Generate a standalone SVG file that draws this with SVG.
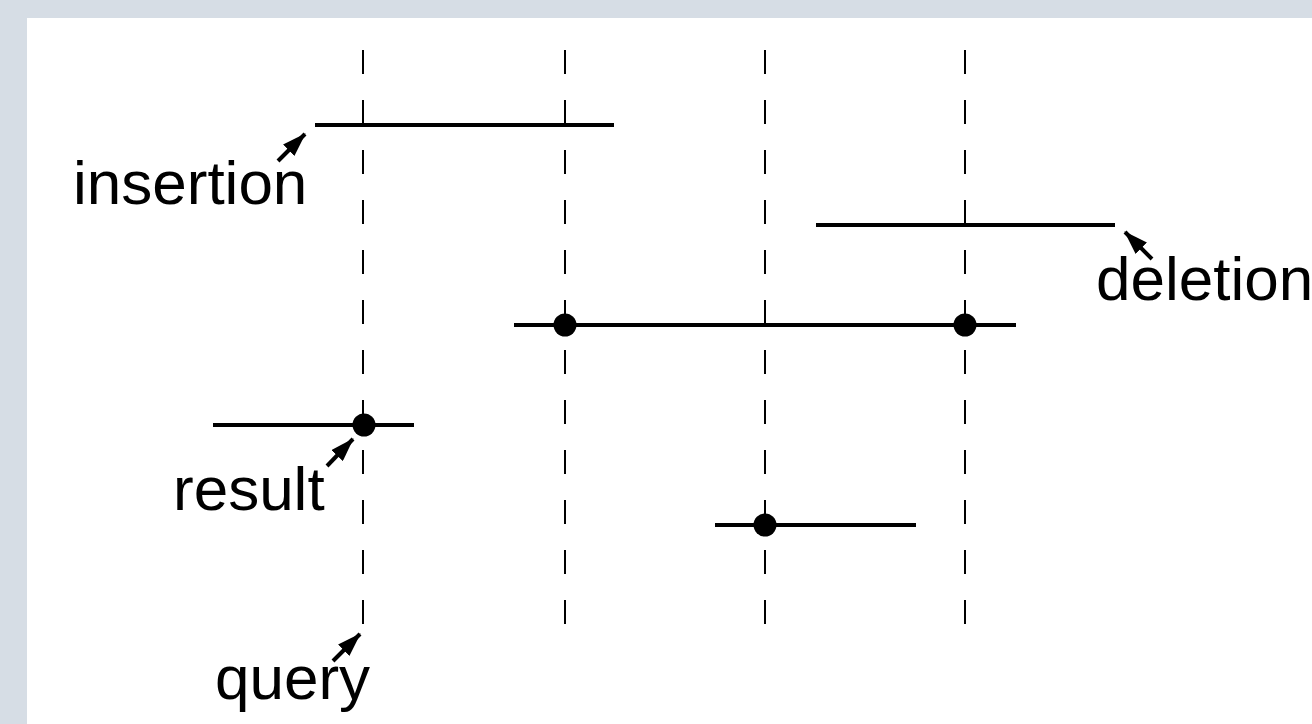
<svg xmlns="http://www.w3.org/2000/svg" width="1312" height="724" viewBox="0 0 1312 724">
<defs>
<marker id="ah" viewBox="0 0 24 16" refX="23" refY="8" markerWidth="24" markerHeight="16" markerUnits="userSpaceOnUse" orient="auto">
<path d="M0,0 L24,8 L0,16 z" fill="#000"/>
</marker>
</defs>
<style>
.grid{stroke:#000;stroke-width:2;stroke-dasharray:24 26;fill:none}
.seg{stroke:#000;stroke-width:4;fill:none}
.dot{fill:#000}
.arr{stroke:#000;stroke-width:4;fill:none}
.lbl{font-family:"Liberation Sans",Arial,sans-serif;font-size:62px;fill:#000}
</style>
<rect width="1312" height="724" fill="#d6dde5"/>
<rect x="27" y="18" width="1285" height="706" fill="#fff"/>
<g id="gridlines">
<line class="grid" x1="363" y1="50" x2="363" y2="626"/>
<line class="grid" x1="565" y1="50" x2="565" y2="626"/>
<line class="grid" x1="765" y1="50" x2="765" y2="626"/>
<line class="grid" x1="965" y1="50" x2="965" y2="626"/>
</g>
<g id="insertion"><line class="seg" x1="315" y1="125" x2="614" y2="125"/></g>
<g id="deletion"><line class="seg" x1="816" y1="225" x2="1115" y2="225"/></g>
<g id="interval1"><line class="seg" x1="514" y1="325" x2="1016" y2="325"/><circle class="dot" cx="565" cy="325" r="11.5"/><circle class="dot" cx="965" cy="325" r="11.5"/></g>
<g id="result"><line class="seg" x1="213" y1="425" x2="414" y2="425"/><circle class="dot" cx="364" cy="425" r="11.5"/></g>
<g id="interval2"><line class="seg" x1="715" y1="525" x2="916" y2="525"/><circle class="dot" cx="765" cy="525" r="11.5"/></g>
<g id="connectors">
<line class="arr" x1="278" y1="161" x2="305" y2="134" marker-end="url(#ah)"/>
<line class="arr" x1="1152" y1="259" x2="1125" y2="232" marker-end="url(#ah)"/>
<line class="arr" x1="327" y1="466" x2="353" y2="439" marker-end="url(#ah)"/>
<line class="arr" x1="333" y1="661" x2="360" y2="634" marker-end="url(#ah)"/>
</g>
<g id="labels">
<text class="lbl" x="73" y="204">insertion</text>
<text class="lbl" x="1096" y="300">deletion</text>
<text class="lbl" x="173" y="510">result</text>
<text class="lbl" x="215" y="699">query</text>
</g>
</svg>
